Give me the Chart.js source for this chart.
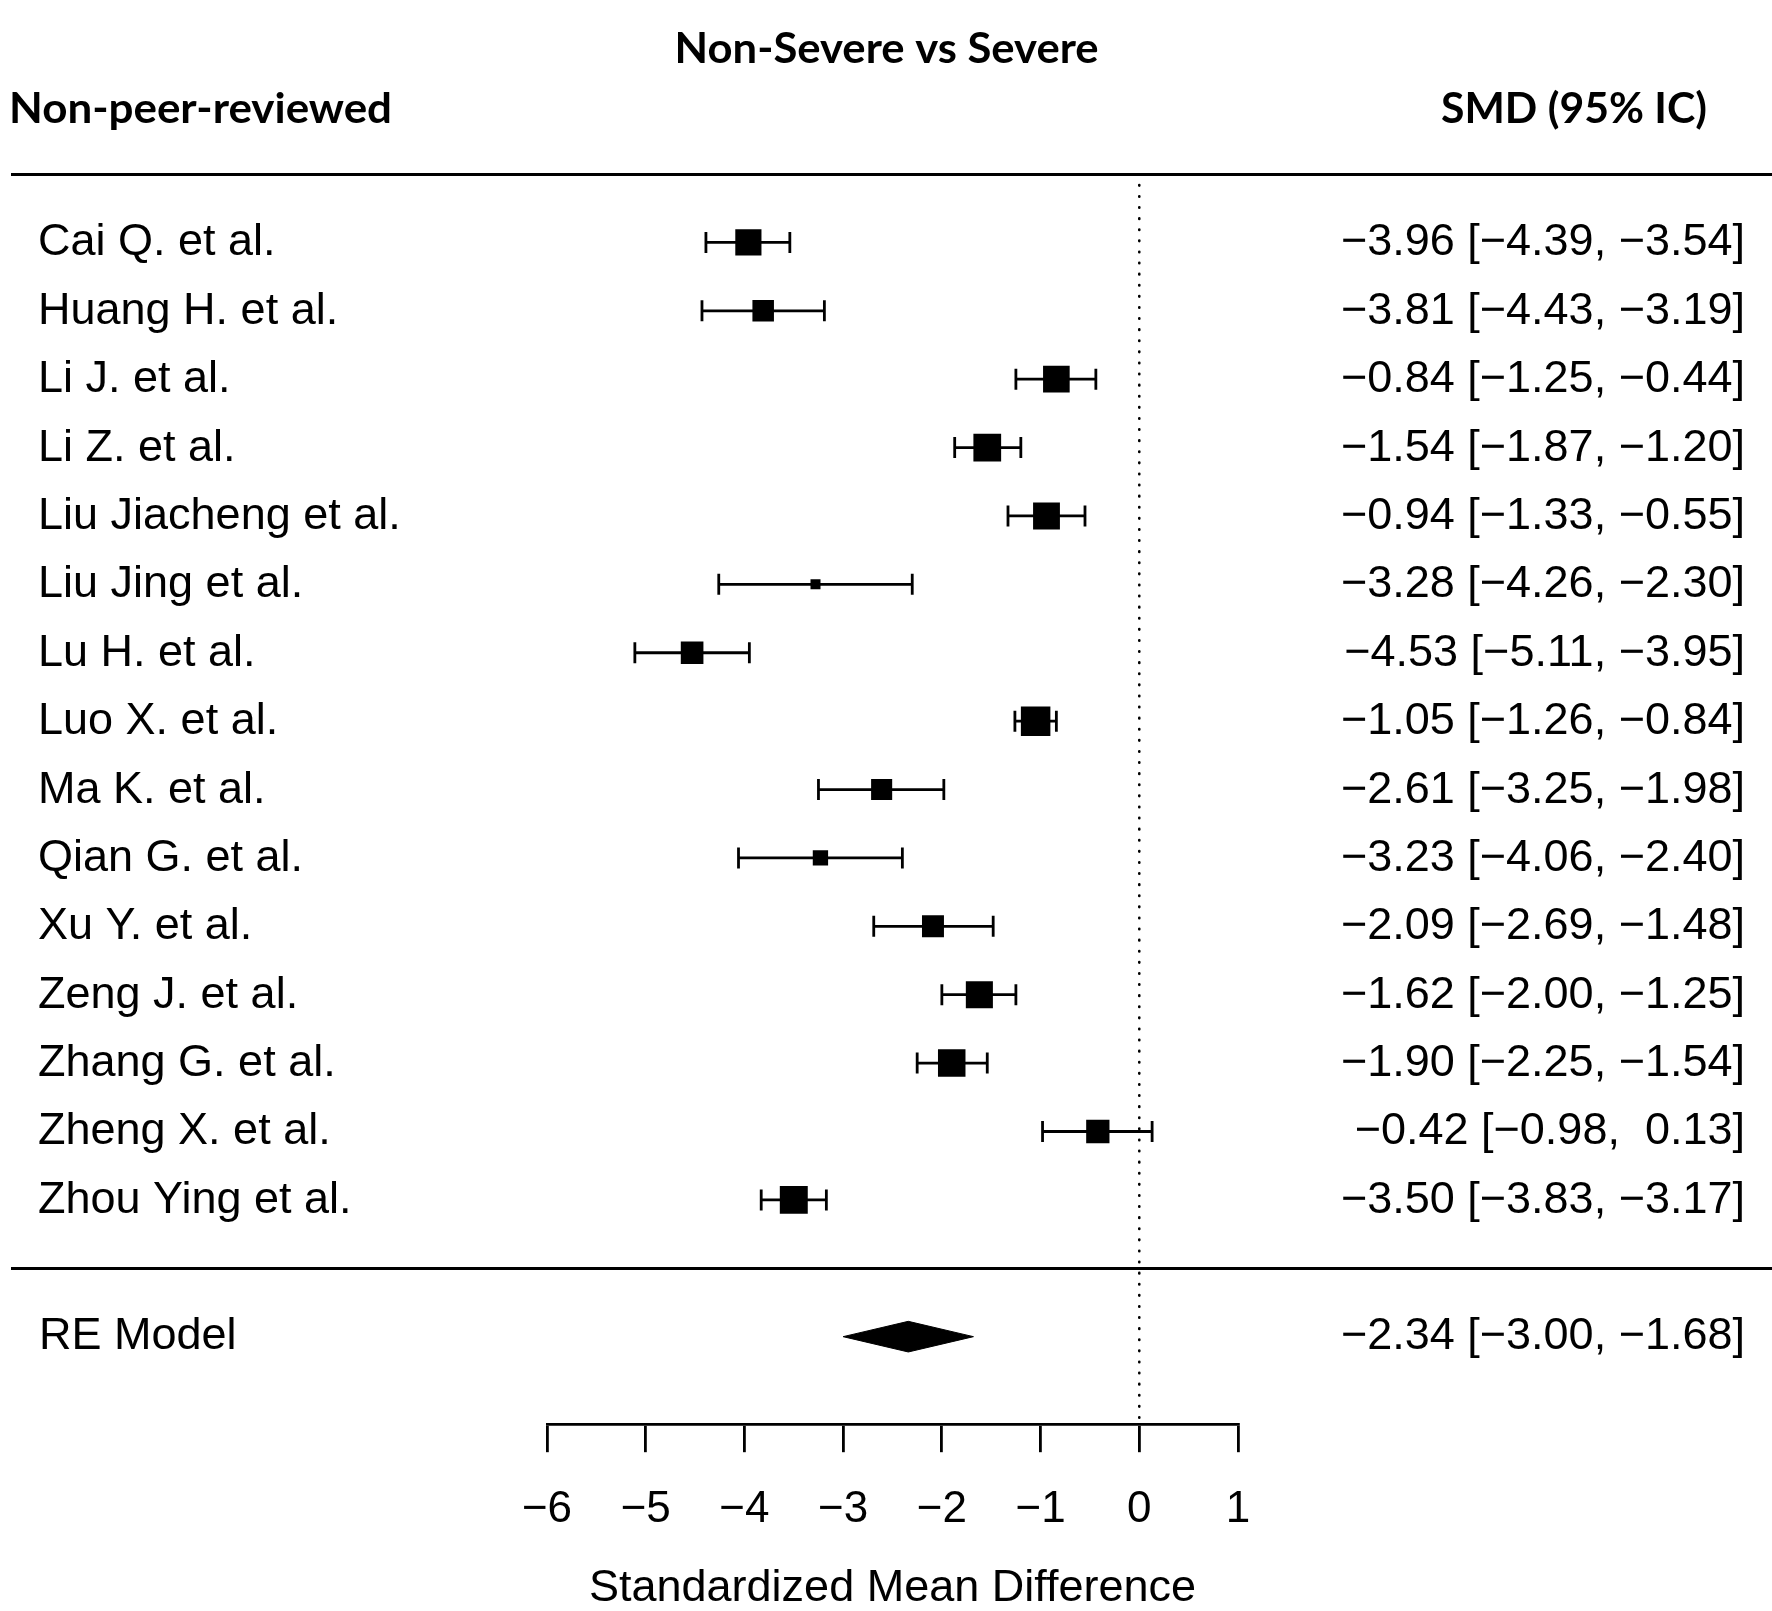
<!DOCTYPE html>
<html>
<head>
<meta charset="utf-8">
<script src="https://cdn.jsdelivr.net/npm/chart.js@4.4.1/dist/chart.umd.min.js"></script>
<style>
  html, body { margin: 0; padding: 0; background: #fff; }
  canvas { display: block; }
</style>
</head>
<body>
<canvas id="forest" width="1772" height="1611"></canvas>
<script>
// studies, top to bottom
const studies = [
  'Cai Q. et al.', 'Huang H. et al.', 'Li J. et al.', 'Li Z. et al.',
  'Liu Jiacheng et al.', 'Liu Jing et al.', 'Lu H. et al.', 'Luo X. et al.',
  'Ma K. et al.', 'Qian G. et al.', 'Xu Y. et al.', 'Zeng J. et al.',
  'Zhang G. et al.', 'Zheng X. et al.', 'Zhou Ying et al.'
];
const smd    = [-3.96, -3.81, -0.84, -1.54, -0.94, -3.28, -4.53, -1.05, -2.61, -3.23, -2.09, -1.62, -1.90, -0.42, -3.50];
const ciLow  = [-4.39, -4.43, -1.25, -1.87, -1.33, -4.26, -5.11, -1.26, -3.25, -4.06, -2.69, -2.00, -2.25, -0.98, -3.83];
const ciHigh = [-3.54, -3.19, -0.44, -1.20, -0.55, -2.30, -3.95, -0.84, -1.98, -2.40, -1.48, -1.25, -1.54,  0.13, -3.17];
// model weights in % (estimated from the square sizes)
const weights = [6.78, 6.57, 6.80, 6.85, 6.81, 6.05, 6.62, 6.93, 6.55, 6.29, 6.59, 6.82, 6.84, 6.65, 6.86];

const reLabel = 'RE Model';
const reEst = -2.34;
const reLow = -3.00;
const reHigh = -1.68;

const xTicks = [-6, -5, -4, -3, -2, -1, 0, 1];

const titleText = 'Non-Severe vs Severe';
const leftHeader = 'Non-peer-reviewed';
const rightHeader = 'SMD (95% IC)';
const xTitle = 'Standardized Mean Difference';

// layout / style
const BODY_FONT = '"Liberation Sans", Arial, Helvetica, sans-serif';
const HEAD_FONT = 'Lato, "Open Sans", sans-serif';
const LW = 2.8;
const RE_ROW = studies.length + 2;
const SEP_ROW = studies.length + 1;
const Y_MAX = 18.28;
const DIAMOND_H = 0.224;
const SQ_MIN = 10, SQ_MAX = 29.5;

const MINUS = '\u2212';
function fmt(v) {
  return (v < 0 ? MINUS : '') + Math.abs(v).toFixed(2);
}
function ciText(e, lo, hi) {
  return fmt(e) + ' [' + fmt(lo) + ', ' + (hi < 0 ? '' : ' ') + fmt(hi) + ']';
}

const wMin = Math.min(...weights), wMax = Math.max(...weights);
const sqSide = weights.map(w => SQ_MIN + (w - wMin) / (wMax - wMin) * (SQ_MAX - SQ_MIN));

const datasets = [];

// squares
datasets.push({
  label: 'smd',
  data: smd.map((v, i) => ({ x: v, y: i + 1 })),
  pointStyle: 'rect',
  pointRadius: sqSide.map(s => s / Math.SQRT2),
  pointBackgroundColor: '#000',
  pointBorderWidth: 0,
  showLine: false,
  order: 0
});

// confidence intervals with end caps
studies.forEach((s, i) => {
  datasets.push({
    label: s,
    data: [{ x: ciLow[i], y: i + 1 }, { x: ciHigh[i], y: i + 1 }],
    showLine: true,
    borderColor: '#000',
    borderWidth: LW,
    pointStyle: 'line',
    pointRotation: 90,
    pointRadius: 10.5,
    pointBorderColor: '#000',
    pointBorderWidth: LW,
    order: 1
  });
});

// RE model diamond
datasets.push({
  label: reLabel,
  data: [
    { x: reLow, y: RE_ROW },
    { x: reEst, y: RE_ROW - DIAMOND_H },
    { x: reHigh, y: RE_ROW },
    { x: reEst, y: RE_ROW + DIAMOND_H },
    { x: reLow, y: RE_ROW }
  ],
  showLine: true,
  fill: 'shape',
  backgroundColor: '#000',
  borderColor: '#000',
  borderWidth: 1,
  pointRadius: 0,
  tension: 0,
  order: 1
});

// dotted line at 0
datasets.push({
  label: 'ref',
  data: [{ x: 0, y: 0 }, { x: 0, y: Y_MAX }],
  showLine: true,
  borderColor: '#000',
  borderWidth: 2.6,
  borderDash: [0.5, 10.6],
  borderCapStyle: 'round',
  pointRadius: 0,
  order: 3
});

function fitText(ctx, text, x, yBase, w, align) {
  const m = ctx.measureText(text).width;
  ctx.save();
  ctx.translate(x, yBase);
  ctx.scale(w / m, 1);
  ctx.textAlign = align;
  ctx.fillText(text, 0, 0);
  ctx.restore();
}

const forestText = {
  id: 'forestText',
  afterDraw(chart) {
    const { ctx, scales: { y } } = chart;
    ctx.save();
    ctx.strokeStyle = '#000';
    ctx.lineWidth = LW;
    [0, SEP_ROW].forEach(r => {
      const py = Math.round(y.getPixelForValue(r)) + 0.5;
      ctx.beginPath();
      ctx.moveTo(11, py);
      ctx.lineTo(chart.width, py);
      ctx.stroke();
    });

    ctx.fillStyle = '#000';
    ctx.textBaseline = 'alphabetic';
    ctx.font = '45px ' + BODY_FONT;
    studies.forEach((s, i) => {
      const py = y.getPixelForValue(i + 1) + 13;
      ctx.textAlign = 'left';
      ctx.fillText(s, 38, py);
      ctx.textAlign = 'right';
      ctx.fillText(ciText(smd[i], ciLow[i], ciHigh[i]), 1745, py);
    });
    const pr = y.getPixelForValue(RE_ROW) + 12;
    ctx.textAlign = 'left';
    ctx.fillText(reLabel, 39, pr);
    ctx.textAlign = 'right';
    ctx.fillText(ciText(reEst, reLow, reHigh), 1745, pr);

    ctx.font = 'bold 42px ' + HEAD_FONT;
    fitText(ctx, titleText, 886.6, 63, 424, 'center');
    fitText(ctx, leftHeader, 9, 123, 383, 'left');
    fitText(ctx, rightHeader, 1441, 123, 266, 'left');
    ctx.restore();
  }
};

new Chart(document.getElementById('forest'), {
  type: 'scatter',
  data: { datasets },
  options: {
    responsive: false,
    animation: false,
    events: [],
    layout: { padding: { left: 547, right: 534, top: 174, bottom: 0 } },
    plugins: { legend: { display: false }, tooltip: { enabled: false } },
    scales: {
      x: {
        type: 'linear',
        position: 'bottom',
        min: xTicks[0],
        max: xTicks[xTicks.length - 1],
        afterBuildTicks: axis => { axis.ticks = xTicks.map(v => ({ value: v })); },
        ticks: {
          padding: 31.5,
          maxRotation: 0,
          color: '#000',
          font: { family: BODY_FONT, size: 44 },
          callback: v => (v < 0 ? MINUS + Math.abs(v) : String(v))
        },
        grid: { drawOnChartArea: false, drawTicks: true, tickLength: 28, color: '#000', lineWidth: LW },
        border: { display: true, color: '#000', width: LW },
        title: {
          display: true,
          text: xTitle,
          color: '#000',
          font: { family: BODY_FONT, size: 45, lineHeight: 1.0 },
          padding: { top: -2, bottom: 0 }
        }
      },
      y: { type: 'linear', reverse: true, min: 0, max: Y_MAX, display: false }
    }
  },
  plugins: [forestText]
});
</script>
</body>
</html>
